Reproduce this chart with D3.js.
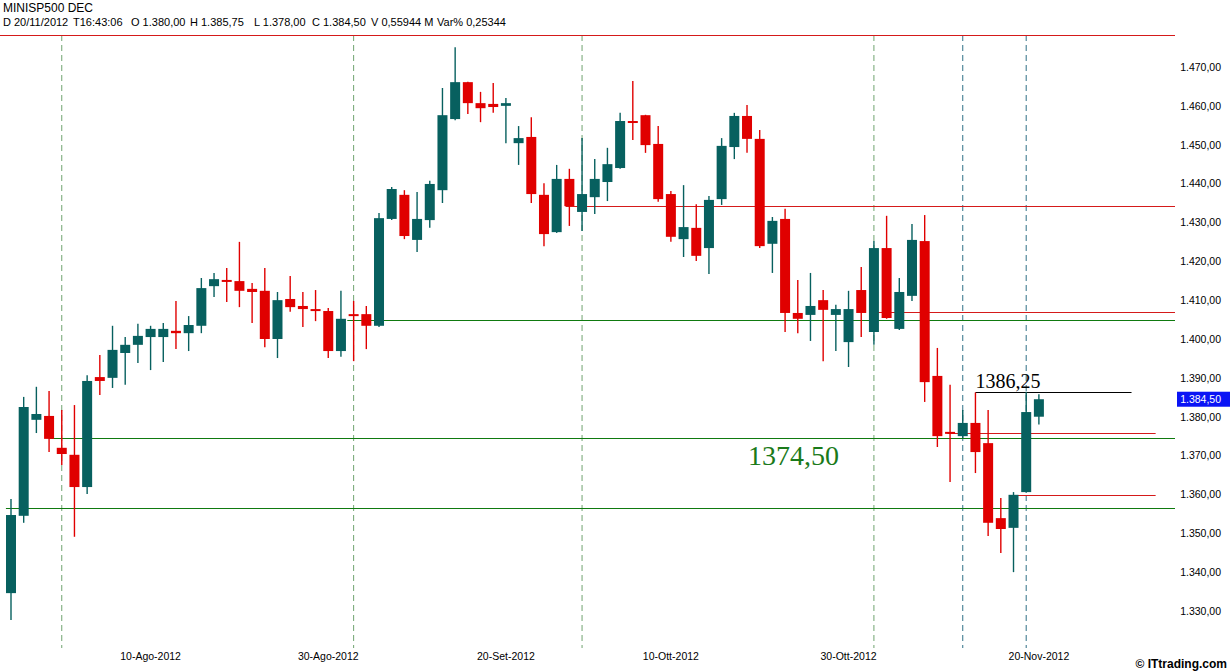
<!DOCTYPE html>
<html><head><meta charset="utf-8">
<script src="https://cdn.jsdelivr.net/npm/d3@7"></script>
<style>
html,body{margin:0;padding:0;background:#fff;}
svg{display:block;font-family:"Liberation Sans",Arial,sans-serif;}
</style></head>
<body><svg id="c" width="1230" height="672"></svg>
<script>
// ---- data ----
const dates = ["2012-07-26","2012-07-27","2012-07-30","2012-07-31","2012-08-01","2012-08-02","2012-08-03","2012-08-06","2012-08-07","2012-08-08","2012-08-09","2012-08-10","2012-08-13","2012-08-14","2012-08-15","2012-08-16","2012-08-17","2012-08-20","2012-08-21","2012-08-22","2012-08-23","2012-08-24","2012-08-27","2012-08-28","2012-08-29","2012-08-30","2012-08-31","2012-09-04","2012-09-05","2012-09-06","2012-09-07","2012-09-10","2012-09-11","2012-09-12","2012-09-13","2012-09-14","2012-09-17","2012-09-18","2012-09-19","2012-09-20","2012-09-21","2012-09-24","2012-09-25","2012-09-26","2012-09-27","2012-09-28","2012-10-01","2012-10-02","2012-10-03","2012-10-04","2012-10-05","2012-10-09","2012-10-10","2012-10-11","2012-10-12","2012-10-15","2012-10-16","2012-10-17","2012-10-18","2012-10-19","2012-10-22","2012-10-23","2012-10-24","2012-10-25","2012-10-26","2012-10-29","2012-10-30","2012-10-31","2012-11-01","2012-11-02","2012-11-05","2012-11-06","2012-11-07","2012-11-08","2012-11-09","2012-11-12","2012-11-13","2012-11-14","2012-11-15","2012-11-16","2012-11-19","2012-11-20"];
const opens = [1334.6,1354.5,1379.2,1380.2,1372.0,1370.2,1361.9,1390.2,1390.0,1396.4,1398.5,1400.5,1400.5,1402.1,1401.5,1403.4,1413.6,1415.2,1414.9,1412.9,1412.4,1400.0,1410.3,1408.5,1407.7,1407.2,1396.9,1406.4,1406.4,1403.4,1430.9,1437.1,1425.5,1430.6,1438.3,1456.6,1466.1,1460.7,1460.5,1460.0,1450.4,1452.0,1437.1,1427.5,1441.2,1432.7,1436.5,1440.4,1444.0,1456.1,1457.6,1450.2,1437.3,1425.7,1428.6,1423.4,1436.0,1449.4,1457.4,1451.5,1424.5,1430.9,1406.7,1406.2,1410.0,1406.2,1399.2,1412.6,1401.8,1423.4,1402.6,1411.1,1425.2,1390.5,1376.1,1375.0,1378.4,1373.2,1353.9,1351.4,1360.6,1380.0];
const highs = [1358.8,1385.1,1387.7,1386.6,1381.7,1383.0,1390.7,1395.9,1403.4,1400.5,1403.9,1403.4,1404.1,1409.8,1405.9,1415.7,1417.0,1418.3,1425.0,1414.4,1418.3,1412.1,1416.2,1412.1,1412.6,1408.0,1412.4,1409.8,1408.5,1432.4,1439.1,1438.3,1437.8,1440.7,1464.6,1475.1,1466.2,1463.6,1465.9,1462.0,1454.8,1457.1,1440.1,1444.8,1443.8,1451.7,1446.3,1449.2,1458.2,1466.4,1457.7,1454.8,1438.1,1439.6,1434.7,1436.8,1451.7,1458.2,1460.2,1453.8,1431.4,1433.5,1415.2,1417.0,1412.6,1408.8,1412.4,1418.5,1425.2,1431.7,1415.7,1429.6,1431.9,1397.7,1388.2,1381.7,1386.25,1381.7,1359.1,1360.6,1386.4,1385.75];
const lows = [1327.7,1352.7,1375.8,1370.9,1367.6,1349.1,1360.1,1385.6,1387.4,1388.2,1393.8,1392.0,1394.1,1397.4,1396.9,1401.5,1410.8,1409.5,1408.2,1404.1,1397.9,1395.1,1407.0,1403.1,1404.6,1395.1,1395.4,1394.3,1397.4,1403.1,1430.6,1425.7,1422.4,1428.6,1435.0,1456.3,1457.9,1455.8,1458.2,1450.4,1444.8,1435.0,1423.9,1427.3,1429.1,1427.8,1432.2,1435.5,1443.8,1451.2,1447.9,1435.3,1425.0,1421.1,1420.1,1416.7,1434.5,1446.3,1447.9,1423.4,1417.0,1401.8,1401.5,1399.5,1394.3,1396.9,1392.8,1400.5,1398.5,1405.2,1402.3,1409.8,1383.8,1372.2,1363.2,1374.5,1365.5,1349.3,1344.9,1340.0,1360.4,1378.0];
const closes = [1354.7,1382.5,1380.7,1374.3,1370.4,1361.9,1389.2,1389.2,1397.2,1398.5,1400.8,1402.6,1402.6,1401.5,1403.6,1413.1,1415.4,1414.7,1412.4,1412.1,1400.0,1410.0,1408.2,1407.7,1407.2,1396.9,1405.2,1405.9,1403.4,1431.1,1438.6,1426.5,1430.9,1439.9,1457.6,1466.1,1460.7,1459.4,1459.7,1460.7,1451.7,1437.3,1427.0,1441.2,1434.2,1437.3,1441.2,1445.0,1456.1,1455.6,1449.9,1436.0,1426.3,1428.8,1421.4,1435.8,1449.7,1457.4,1451.5,1423.9,1430.4,1406.7,1405.2,1408.5,1407.5,1407.7,1407.7,1406.7,1423.4,1405.4,1412.1,1425.5,1388.9,1375.0,1375.6,1378.4,1370.9,1352.7,1351.1,1359.9,1381.2,1384.5];

const yTicks = [1330,1340,1350,1360,1370,1380,1390,1400,1410,1420,1430,1440,1450,1460,1470];
const xTickDates = ["2012-08-10","2012-08-30","2012-09-20","2012-10-10","2012-10-30","2012-11-20"];
const xTickLabels = ["10-Ago-2012","30-Ago-2012","20-Set-2012","10-Ott-2012","30-Ott-2012","20-Nov-2012"];

const greenCycleDates = ["2012-08-01","2012-09-04","2012-09-28","2012-11-01"];
const blueCycleDates = ["2012-11-12","2012-11-19"];

// drawn horizontal levels: value, start (bar index), end (bar index, null = right edge)
const levelValues = [1478.2, 1434.2, 1407.0, 1404.9, 1374.5, 1356.5, 1375.8, 1359.9, 1386.25];
const levelStarts = [-1, 43.7, 67.7, 26.5, 3, -0.4, 73.8, 79.3, 76];
const levelEnds   = [null, null, null, null, null, null, 90.2, 90.2, 88.3];
const levelKinds  = ["res","res","res","sup","sup","sup","res","res","mark"];

const lastClose = 1384.5;
const headerTitle = "MINISP500 DEC";
const headerItems = ["D 20/11/2012","T16:43:06","O 1.380,00","H 1.385,75","L 1.378,00","C 1.384,50","V 0,55944 M","Var% 0,25344"];

// ---- layout ----
const W = 1230, H = 672;
const plotRight = 1175, plotTop = 35, plotBottom = 648;
const step = 12.69, firstCenter = 11;
const svg = d3.select("#c");

const x = d3.scaleBand().domain(dates)
  .range([firstCenter - step/2, firstCenter - step/2 + step*dates.length]).padding(0);
const xc = d => x(d) + x.bandwidth()/2;
const xi = i => firstCenter + i*step; // fractional bar position (for drawing tools)
const y = d3.scaleLinear().domain([1330,1470]).range([611,67]);

const loc = d3.formatLocale({decimal:",", thousands:".", grouping:[3], currency:["",""]});
const fmt = loc.format(",.2f");

const TEAL = "#07605f", RED = "#e00000";
const LINE_RED = "#d51a1a", LINE_GREEN = "#0f7a0f";

// vertical cycle lines
svg.append("g").selectAll("line").data(greenCycleDates).join("line")
  .attr("x1", d => xc(d)).attr("x2", d => xc(d))
  .attr("y1", plotTop).attr("y2", plotBottom)
  .attr("stroke", "#6fa36f").attr("stroke-width", 1).attr("stroke-dasharray", "6,4");
svg.append("g").selectAll("line").data(blueCycleDates).join("line")
  .attr("x1", d => xc(d)).attr("x2", d => xc(d))
  .attr("y1", plotTop).attr("y2", plotBottom)
  .attr("stroke", "#2f6f86").attr("stroke-width", 1).attr("stroke-dasharray", "6,4");

// horizontal levels
const levels = levelValues.map((v,i)=>({v, s:levelStarts[i], e:levelEnds[i], k:levelKinds[i]}));
svg.append("g").selectAll("line").data(levels).join("line")
  .attr("x1", d => Math.max(0, xi(d.s)))
  .attr("x2", d => d.e === null ? plotRight : xi(d.e))
  .attr("y1", d => Math.round(y(d.v)) + 0.5).attr("y2", d => Math.round(y(d.v)) + 0.5)
  .attr("stroke", d => d.k === "res" ? LINE_RED : d.k === "sup" ? LINE_GREEN : "#000")
  .attr("stroke-width", 1.2);

// candles
const candles = dates.map((d,i)=>({d, o:opens[i], h:highs[i], l:lows[i], c:closes[i]}));
const bw = 10;
const g = svg.append("g");
g.selectAll("line.w").data(candles).join("line").attr("class","w")
  .attr("x1", d => xc(d.d)).attr("x2", d => xc(d.d))
  .attr("y1", d => y(d.h)).attr("y2", d => y(d.l))
  .attr("stroke", d => d.c >= d.o ? TEAL : RED).attr("stroke-width", 1.4);
g.selectAll("rect").data(candles).join("rect")
  .attr("x", d => xc(d.d) - bw/2).attr("width", bw)
  .attr("y", d => y(Math.max(d.o,d.c)))
  .attr("height", d => Math.max(2, Math.abs(y(d.o) - y(d.c))))
  .attr("fill", d => d.c >= d.o ? TEAL : RED);

// annotations
svg.append("text").attr("x", 748).attr("y", 465)
  .attr("font-family", "'Liberation Serif','Times New Roman',serif").attr("font-size", 28)
  .attr("fill", "#1a7a1a").text(loc.format(".2f")(levelValues[4]));
svg.append("text").attr("x", xi(levelStarts[8])).attr("y", y(levelValues[8]) - 4)
  .attr("font-family", "'Liberation Serif','Times New Roman',serif").attr("font-size", 20)
  .attr("fill", "#000").text(loc.format(".2f")(levelValues[8]));

// y axis labels (right side, no line)
const yAxis = d3.axisRight(y).tickValues(yTicks).tickFormat(fmt).tickSize(0).tickPadding(0);
const ya = svg.append("g").attr("transform", "translate(1221,0)").call(yAxis);
ya.select(".domain").remove();
ya.selectAll("text").attr("text-anchor","end").attr("font-family","'Liberation Sans',Arial,sans-serif")
  .attr("font-size", 10.5).attr("fill","#000");

// last price box
const ly = y(lastClose);
svg.append("rect").attr("x", 1177).attr("y", ly - 7.5).attr("width", 54).attr("height", 15).attr("fill", "#0a14f5");
svg.append("text").attr("x", 1221).attr("y", ly + 4).attr("text-anchor","end")
  .attr("font-size", 10.5).attr("fill","#fff").text(fmt(lastClose));

// x axis labels
const xa = svg.append("g").attr("transform", `translate(0,${plotBottom})`)
  .call(d3.axisBottom(x).tickValues(xTickDates).tickFormat((d,i)=>xTickLabels[i]).tickSize(0).tickPadding(5));
xa.select(".domain").remove();
xa.selectAll("text").attr("font-family","'Liberation Sans',Arial,sans-serif").attr("font-size", 10.5).attr("fill","#000");

// header
svg.append("text").attr("x", 3).attr("y", 12).attr("font-size", 12).attr("fill","#000").text(headerTitle);
const hx = [3, 73, 131, 190, 254, 312, 371, 437];
svg.append("g").selectAll("text").data(headerItems).join("text")
  .attr("x", (d,i)=>hx[i]).attr("y", 26).attr("font-size", 11).attr("fill","#000").text(d=>d);

// copyright
svg.append("text").attr("x", 1227).attr("y", 668).attr("text-anchor","end")
  .attr("font-size", 12).attr("font-weight","bold").attr("fill","#000").text("© ITtrading.com");
</script></body></html>
